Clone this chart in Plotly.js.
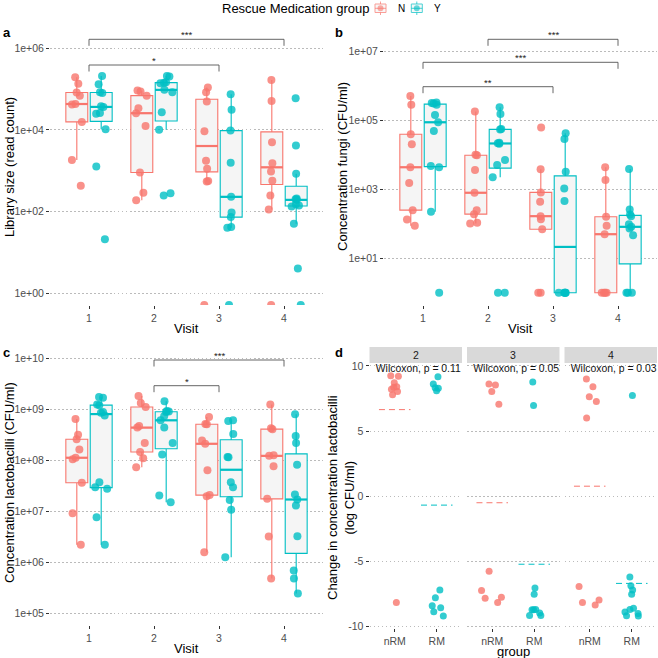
<!DOCTYPE html>
<html><head><meta charset="utf-8">
<script src="https://cdn.plot.ly/plotly-3.0.1.min.js"></script>
<style>html,body{margin:0;padding:0;background:#fff}#chart{width:658px;height:658px}</style>
</head><body><div id="chart"></div>
<script>
// ---------------- DATA ----------------
const visits = [1, 2, 3, 4];
const groups = ['N', 'Y'];

// a: Library size (read count) per visit; 0 = no reads (drawn at panel floor)
const libraryN = [
  [195000, 134000, 82000, 69000, 43000, 42000, 15700, 1840, 430],
  [92000, 87000, 69000, 34000, 25600, 12500, 900, 290, 190],
  [109000, 83600, 49400, 9300, 1740, 1110, 560, 545, 0],
  [167000, 51300, 5000, 1530, 955, 564, 247, 112, 0]
];
const libraryY = [
  [210000, 131000, 84000, 80000, 38000, 36500, 26000, 25000, 10400, 1260, 21],
  [210000, 202000, 146000, 142000, 139000, 95500, 83600, 27100, 10000, 280, 247],
  [74600, 30900, 9600, 1560, 229, 95, 73, 42, 40, 0],
  [59700, 4130, 836, 208, 200, 193, 151, 140, 132, 50, 4, 0]
];
// b: Concentration fungi (CFU/ml)
const fungiN = [
  [520000, 286000, 40000, 20500, 4400, 1530, 250, 134, 88],
  [183000, 10200, 9800, 3660, 800, 250, 191, 107, 102],
  [62500, 3830, 820, 438, 167, 137, 70, 1, 1],
  [4380, 1870, 160, 88, 50, 1, 1, 1, 1]
];
const fungiY = [
  [334000, 325000, 315000, 286000, 146000, 89000, 50000, 4800, 4400, 224, 1],
  [244000, 156000, 57000, 55000, 22500, 21900, 21300, 7100, 5100, 2240, 1, 1],
  [42800, 29200, 3270, 1070, 457, 1, 1, 1, 1, 1],
  [3910, 261, 187, 167, 98, 82, 73, 47, 1, 1, 1]
];
// c: Concentration lactobacilli (CFU/ml)
const lactoN = [
  [6.5e8, 3.2e8, 2.6e8, 1.64e8, 1.13e8, 1.05e8, 3.65e7, 9.3e6, 2.25e6],
  [1.82e9, 1.33e9, 1.11e9, 4.7e8, 4.4e8, 2.2e8, 1.46e8, 1.11e8, 7.4e7],
  [7.1e8, 5.2e8, 5.1e8, 2.47e8, 2.12e8, 6.4e7, 2.1e7, 2.0e7, 1.6e6],
  [1.25e9, 4.25e8, 4.1e8, 1.27e8, 1.23e8, 7.7e7, 1.77e7, 3.24e6, 4.9e5]
];
const lactoY = [
  [1.75e9, 1.69e9, 1.25e9, 1.2e9, 8.9e8, 8.6e8, 7.6e8, 3.76e7, 3.0e7, 2.78e7, 7.7e6, 2.25e6],
  [1.44e9, 9.3e8, 9.1e8, 8.9e8, 7.3e8, 6.1e8, 4.4e8, 2.2e8, 1.31e8, 2.06e7, 1.52e7],
  [6.1e8, 5.9e8, 3.3e8, 1.17e8, 1.15e8, 3.76e7, 3.0e7, 1.69e7, 1.09e7, 1.27e6],
  [8.0e8, 3.0e8, 2.2e8, 8.2e7, 2.15e7, 1.72e7, 1.31e7, 3.3e6, 7.0e5, 4.9e5, 2.5e5]
];
// significance comparisons [from visit, to visit, label]
const sigLibrary = [[1, 4, '***'], [1, 3, '*']];
const sigFungi = [[2, 4, '***'], [1, 4, '***'], [1, 3, '**']];
const sigLacto = [[2, 4, '***'], [2, 3, '*']];

// d: change in concentration lactobacilli (log CFU/ml), faceted by visit
const deltaVisits = ['2', '3', '4'];
const deltaGroups = ['nRM', 'RM'];
const deltaNRM = [
  [9.25, 9.22, 8.72, 8.36, 8.03, 8.21, 8.41, 7.79, -8.18],
  [8.62, 8.54, 8.03, 7.05, -5.79, -7.26, -7.79, -7.87, -8.18],
  [9.0, 8.41, 7.64, 7.26, 6.0, -6.95, -8.18, -8.0, -8.38]
];
const deltaRM = [
  [9.18, 8.33, 8.28, 8.62, 8.1, -7.23, -7.82, -8.59, -8.44, -8.9, -9.23],
  [8.77, 6.97, -7.08, -7.56, -8.74, -8.74, -8.72, -9.18, -9.18, -9.0],
  [7.74, -6.23, -6.9, -7.23, -7.56, -8.64, -8.72, -8.92, -9.03, -9.2, -9.23]
];
const wilcoxonP = ['0.11', '0.053', '0.03'];

// ---------------- RENDERING ----------------
const W = 658;
const py = p => 1 - p / W;
const px = p => p / W;
const FONT = 'Liberation Sans, Arial, Helvetica, sans-serif';
const RED = '#F8766D', TEAL = '#00BFC4';
const colors = { N: RED, Y: TEAL };
const TICKC = '#4D4D4D';

function q7(s, p) {
  const h = (s.length - 1) * p, lo = Math.floor(h), hi = Math.ceil(h);
  return s[lo] + (h - lo) * (s[hi] - s[lo]);
}
function boxStats(vals) {
  const l = vals.filter(v => v > 0).map(v => Math.log10(v)).sort((a, b) => a - b);
  const q1 = q7(l, 0.25), med = q7(l, 0.5), q3 = q7(l, 0.75), iqr = q3 - q1;
  const lo = l.find(v => v >= q1 - 1.5 * iqr);
  const hi = l.slice().reverse().find(v => v <= q3 + 1.5 * iqr);
  return [lo, q1, med, q3, hi].map(v => Math.pow(10, v));
}

const traces = [], shapes = [], annotations = [];
const panels = [
  { N: libraryN, Y: libraryY, xa: 'x', ya: 'y', yr: [-0.29, 6.52], sig: sigLibrary, sigPx: [39.3, 65] },
  { N: fungiN, Y: fungiY, xa: 'x2', ya: 'y2', yr: [-0.357, 7.717], sig: sigFungi, sigPx: [39.3, 62.3, 86.7] },
  { N: lactoN, Y: lactoY, xa: 'x3', ya: 'y3', yr: [4.779, 10.26], sig: sigLacto, sigPx: [360, 385.7] }
];
const dodge = { N: -0.1875, Y: 0.1875 };
const BOXW = 0.3375;

panels.forEach(p => {
  groups.forEach(g => {
    const st = p[g].map(boxStats);
    const pos = visits.map(v => v + dodge[g]);
    traces.push({
      type: 'box', orientation: 'v', xaxis: p.xa, yaxis: p.ya, x: pos,
      lowerfence: st.map(s => s[0]), q1: st.map(s => s[1]), median: st.map(s => s[2]),
      q3: st.map(s => s[3]), upperfence: st.map(s => s[4]),
      width: BOXW, fillcolor: '#F5F5F5', line: { color: colors[g], width: 1.1 },
      whiskerwidth: 0, boxpoints: false, showlegend: false, hoverinfo: 'skip'
    });
    // thicker median bar (ggplot fatten)
    const mx = [], my = [];
    pos.forEach((c, i) => { mx.push(c - BOXW / 2, c + BOXW / 2, null); my.push(st[i][2], st[i][2], null); });
    traces.push({
      type: 'scatter', mode: 'lines', xaxis: p.xa, yaxis: p.ya, x: mx, y: my,
      line: { color: colors[g], width: 2.2 }, showlegend: false, hoverinfo: 'skip'
    });
  });
});
panels.forEach(p => {
  groups.forEach(g => {
    const xs = [], ys = [];
    p[g].forEach((vals, i) => vals.forEach(v => {
      xs.push(visits[i] + dodge[g]);
      ys.push(v > 0 ? v : Math.pow(10, p.yr[0]));
    }));
    traces.push({
      type: 'box', xaxis: p.xa, yaxis: p.ya, x: xs, y: ys,
      boxpoints: 'all', jitter: 0.7, pointpos: 0, width: BOXW,
      fillcolor: 'rgba(0,0,0,0)', line: { width: 0, color: 'rgba(0,0,0,0)' }, whiskerwidth: 0,
      marker: { color: colors[g], size: 8, opacity: 0.8, line: { width: 0 } },
      showlegend: false, hoverinfo: 'skip'
    });
  });
  // significance brackets
  p.sig.forEach((s, k) => {
    const yTop = p.sigPx[k];
    shapes.push({
      type: 'path', xref: p.xa, yref: 'paper',
      path: `M${s[0]},${py(yTop + 6.5)} L${s[0]},${py(yTop)} L${s[1]},${py(yTop)} L${s[1]},${py(yTop + 6.5)}`,
      line: { color: '#555', width: 0.9 }
    });
    annotations.push({
      xref: p.xa, yref: 'paper', x: (s[0] + s[1]) / 2, y: py(yTop - 4.5), yanchor: 'middle',
      text: s[2], showarrow: false, font: { size: 9.5, color: '#222', family: FONT }
    });
  });
});

// panel d
const dAxes = [['x4', 'y4'], ['x5', 'y5'], ['x6', 'y6']];
deltaVisits.forEach((v, f) => {
  const [xa, ya] = dAxes[f];
  [[deltaNRM[f], RED, 1], [deltaRM[f], TEAL, 2]].forEach(([vals, col, pos]) => {
    traces.push({
      type: 'box', xaxis: xa, yaxis: ya, x: vals.map(() => pos), y: vals,
      boxpoints: 'all', jitter: 1, pointpos: 0, width: 0.6,
      fillcolor: 'rgba(0,0,0,0)', line: { width: 0, color: 'rgba(0,0,0,0)' }, whiskerwidth: 0,
      marker: { color: col, size: 7, opacity: 0.8, line: { width: 0 } },
      showlegend: false, hoverinfo: 'skip'
    });
    const m = vals.reduce((a, b) => a + b, 0) / vals.length;
    traces.push({
      type: 'scatter', mode: 'lines', xaxis: xa, yaxis: ya,
      x: [pos - 0.375, pos + 0.375], y: [m, m],
      line: { color: col, width: 1, dash: '6px,4px' }, showlegend: false, hoverinfo: 'skip'
    });
  });
  traces.push({
    type: 'scatter', mode: 'text', xaxis: xa, yaxis: ya, x: [0.55], y: [9.7],
    text: ['Wilcoxon, p = ' + wilcoxonP[f]], textposition: 'middle right',
    textfont: { size: 10.4, color: '#111', family: FONT }, cliponaxis: true,
    showlegend: false, hoverinfo: 'skip'
  });
});

// axes
const tickFont = { size: 10.5, color: TICKC, family: FONT };
const xBase = {
  range: [0.4, 4.6], tickvals: visits, ticktext: visits.map(String), ticks: 'outside', ticklen: 3,
  tickwidth: 1, tickcolor: '#333', showgrid: false, zeroline: false, showline: false, tickfont: tickFont
};
const yBase = {
  ticks: 'outside', ticklen: 3, tickwidth: 1, tickcolor: '#333', showgrid: true, gridcolor: '#BBBBBB',
  gridwidth: 1, griddash: '1.5px,2.5px', zeroline: false, showline: false, tickfont: tickFont
};
const dec = e => '1e+' + String(e).padStart(2, '0');
const logTicks = es => ({ tickvals: es.map(e => Math.pow(10, e)), ticktext: es.map(dec) });

const layout = {
  width: W, height: W, margin: { l: 0, r: 0, t: 0, b: 0 },
  paper_bgcolor: '#fff', plot_bgcolor: '#fff', showlegend: false,
  font: { family: FONT }, boxmode: 'overlay',
  xaxis: Object.assign({}, xBase, { domain: [px(50), px(323)], anchor: 'y' }),
  yaxis: Object.assign({}, yBase, logTicks([0, 2, 4, 6]), { domain: [py(305), py(27)], anchor: 'x', type: 'log', range: panels[0].yr }),
  xaxis2: Object.assign({}, xBase, { domain: [px(384), px(657)], anchor: 'y2' }),
  yaxis2: Object.assign({}, yBase, logTicks([1, 3, 5, 7]), { domain: [py(305), py(27)], anchor: 'x2', type: 'log', range: panels[1].yr }),
  xaxis3: Object.assign({}, xBase, { domain: [px(50), px(323)], anchor: 'y3' }),
  yaxis3: Object.assign({}, yBase, logTicks([5, 6, 7, 8, 9, 10]), { domain: [py(625), py(345)], anchor: 'x3', type: 'log', range: panels[2].yr }),
  shapes: shapes, annotations: annotations
};
const facetPx = [[369.5, 462], [467, 559.5], [564.5, 657]];
const dTicks = [-10, -5, 0, 5, 10];
facetPx.forEach((fp, f) => {
  const n = f + 4;
  layout['xaxis' + n] = Object.assign({}, xBase, {
    range: [0.4, 2.6], tickvals: [1, 2], ticktext: deltaGroups, domain: [px(fp[0]), px(fp[1])], anchor: 'y' + n
  });
  layout['yaxis' + n] = Object.assign({}, yBase, {
    range: [-10.15, 10.23], tickvals: dTicks, ticktext: dTicks.map(String),
    domain: [py(628), py(363)], anchor: 'x' + n,
    showticklabels: f === 0, ticks: f === 0 ? 'outside' : ''
  });
  shapes.push({ type: 'rect', xref: 'paper', yref: 'paper', x0: px(fp[0]), x1: px(fp[1]), y0: py(363), y1: py(347),
    fillcolor: '#D9D9D9', line: { width: 0 }, layer: 'below' });
  annotations.push({ xref: 'paper', yref: 'paper', x: px((fp[0] + fp[1]) / 2), y: py(355), text: deltaVisits[f],
    showarrow: false, font: { size: 10.5, color: '#1A1A1A', family: FONT }, xanchor: 'center', yanchor: 'middle' });
});

// text labels
function txt(x, y, text, opts) {
  annotations.push(Object.assign({ xref: 'paper', yref: 'paper', x: px(x), y: py(y), text: text, showarrow: false,
    xanchor: 'center', yanchor: 'middle', font: { size: 13, color: '#000', family: FONT } }, opts || {}));
}
txt(1, 32, '<b>a</b>', { xanchor: 'left' });
txt(333, 32, '<b>b</b>', { xanchor: 'left' });
txt(1, 352, '<b>c</b>', { xanchor: 'left' });
txt(333, 352, '<b>d</b>', { xanchor: 'left' });
txt(186.5, 328, 'Visit');
txt(520.5, 328, 'Visit');
txt(186.5, 648, 'Visit');
txt(513, 651, 'group');
txt(9, 167, 'Library size (read count)', { textangle: -90 });
txt(342, 167, 'Concentration fungi (CFU/ml)', { textangle: -90 });
txt(9, 483, 'Concentration lactobacilli (CFU/ml)', { textangle: -90 });
txt(341, 497, 'Change in concentration lactobacilli<br>(log CFU/ml)', { textangle: -90 });

// legend (manual, ggplot-style keys)
txt(220, 8.3, 'Rescue Medication group', { xanchor: 'left' });
[['N', RED, 380.5, 396], ['Y', TEAL, 416.8, 432]].forEach(([lab, col, cx, tx]) => {
  shapes.push({ type: 'rect', xref: 'paper', yref: 'paper', x0: px(cx - 5.5), x1: px(cx + 5.5), y0: py(12.5), y1: py(4),
    fillcolor: '#F5F5F5', line: { color: col, width: 1 }, opacity: 0.7 });
  shapes.push({ type: 'line', xref: 'paper', yref: 'paper', x0: px(cx), x1: px(cx), y0: py(4), y1: py(1.5), line: { color: col, width: 1 }, opacity: 0.7 });
  shapes.push({ type: 'line', xref: 'paper', yref: 'paper', x0: px(cx), x1: px(cx), y0: py(15), y1: py(12.5), line: { color: col, width: 1 }, opacity: 0.7 });
  shapes.push({ type: 'line', xref: 'paper', yref: 'paper', x0: px(cx - 5.5), x1: px(cx + 5.5), y0: py(8.3), y1: py(8.3), line: { color: col, width: 1 }, opacity: 0.7 });
  shapes.push({ type: 'circle', xref: 'paper', yref: 'paper', x0: px(cx - 3), x1: px(cx + 3), y0: py(11.3), y1: py(5.3),
    fillcolor: col, line: { width: 0 }, opacity: 0.6 });
  txt(tx, 8.3, lab, { xanchor: 'left', font: { size: 10, color: '#000', family: FONT } });
});

Plotly.newPlot('chart', traces, layout, { staticPlot: true, displayModeBar: false });
</script></body></html>
